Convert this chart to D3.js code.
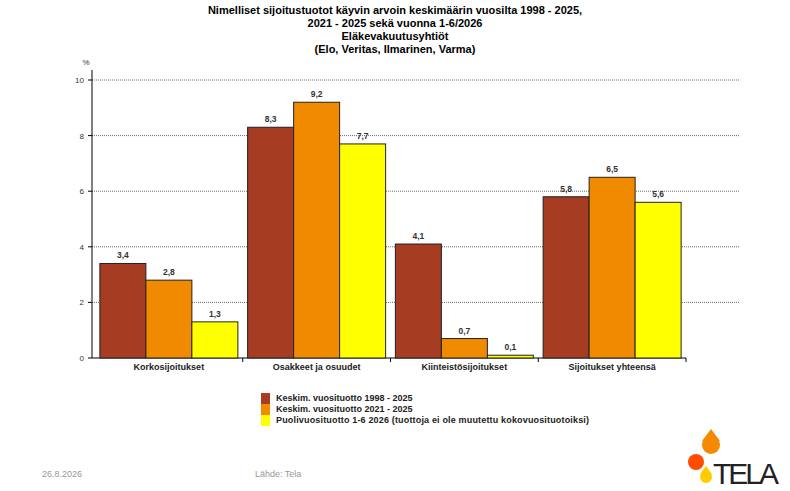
<!DOCTYPE html><html><head><meta charset="utf-8"><script src="https://cdn.jsdelivr.net/npm/d3@7"></script>
<style>body{margin:0;background:#fff}text{font-family:"Liberation Sans",Arial,sans-serif}</style></head><body><svg width="790" height="491"></svg><script>
const categories=["Korkosijoitukset","Osakkeet ja osuudet","Kiinteistösijoitukset","Sijoitukset yhteensä"];
const series=["Keskim. vuosituotto 1998 - 2025","Keskim. vuosituotto 2021 - 2025","Puolivuosituotto 1-6 2026 (tuottoja ei ole muutettu kokovuosituotoiksi)"];
const s1=[3.4,8.3,4.1,5.8], s2=[2.8,9.2,0.7,6.5], s3=[1.3,7.7,0.1,5.6];
const colors=["#A63C22","#F08A00","#FFFF00"];
const yTicks=[0,2,4,6,8,10];
const vals=[s1,s2,s3];
const svg=d3.select("svg");
const x0=d3.scaleBand().domain(categories).range([95,686]).paddingInner(0.066).paddingOuter(0.033);
const x1=d3.scaleBand().domain([0,1,2]).range([0,x0.bandwidth()]);
const y=d3.scaleLinear().domain([0,10]).range([358,80]);
const title=["Nimelliset sijoitustuotot käyvin arvoin keskimäärin vuosilta 1998 - 2025,","2021 - 2025 sekä vuonna 1-6/2026","Eläkevakuutusyhtiöt","(Elo, Veritas, Ilmarinen, Varma)"];
svg.selectAll(".t").data(title).enter().append("text").attr("x",395).attr("y",(d,i)=>14+i*13).attr("text-anchor","middle").attr("font-size",11).attr("font-weight","bold").text(d=>d);
yTicks.forEach(t=>{ if(t>0) svg.append("line").attr("x1",92).attr("x2",740).attr("y1",y(t)).attr("y2",y(t)).attr("stroke","#444").attr("stroke-width",0.8).attr("stroke-dasharray","1,1");
 svg.append("line").attr("x1",88).attr("x2",92).attr("y1",y(t)).attr("y2",y(t)).attr("stroke","#000");
 svg.append("text").attr("x",84).attr("y",y(t)+3).attr("text-anchor","end").attr("font-size",8).attr("fill","#333").text(t);});
svg.append("text").attr("x",86).attr("y",65).attr("text-anchor","middle").attr("font-size",8).attr("fill","#333").text("%");
svg.append("line").attr("x1",92).attr("x2",92).attr("y1",70).attr("y2",358).attr("stroke","#000");
svg.append("line").attr("x1",92).attr("x2",686).attr("y1",358).attr("y2",358).attr("stroke","#000");
categories.forEach((c,ci)=>{
 const gx=x0(c);
 svg.append("line").attr("x1",gx+x0.step()-x0.step()*0.033).attr("x2",gx+x0.step()-x0.step()*0.033).attr("y1",358).attr("y2",362).attr("stroke","#000");
 vals.forEach((s,si)=>{
  const bx=gx+x1(si);
  svg.append("rect").attr("x",bx).attr("y",y(s[ci])).attr("width",x1.bandwidth()).attr("height",358-y(s[ci])).attr("fill",colors[si]).attr("stroke","#222").attr("stroke-width",1);
  svg.append("text").attr("x",bx+x1.bandwidth()/2).attr("y",y(s[ci])-5).attr("text-anchor","middle").attr("font-size",8.5).attr("font-weight","bold").attr("fill","#333").text(String(s[ci]).replace(".",","));
 });
 svg.append("text").attr("x",gx+x0.bandwidth()/2).attr("y",370).attr("text-anchor","middle").attr("font-size",9).attr("font-weight","bold").attr("fill","#222").text(c);
});
series.forEach((s,i)=>{
 svg.append("rect").attr("x",261).attr("y",393+i*11).attr("width",9).attr("height",11).attr("fill",colors[i]);
 svg.append("text").attr("x",276).attr("y",401+i*11).attr("font-size",9).attr("font-weight","bold").attr("fill","#222").attr("textLength",i==2?313:null).text(s);
});
svg.append("text").attr("x",42).attr("y",477).attr("font-size",9).attr("fill","#999").text("26.8.2026");
svg.append("text").attr("x",255).attr("y",477).attr("font-size",9).attr("fill","#999").text("Lähde: Tela");
// logo
svg.append("circle").attr("cx",711).attr("cy",445).attr("r",9).attr("fill","#F58A00");
svg.append("path").attr("d","M711,429 L702,441 L720,441Z").attr("fill","#F58A00");
svg.append("circle").attr("cx",696).attr("cy",462).attr("r",8).attr("fill","#FF4C00");
svg.append("circle").attr("cx",706).attr("cy",477).attr("r",6).attr("fill","#FFCC00");
svg.append("path").attr("d","M706,466 L700,474 L712,474Z").attr("fill","#FFCC00");
svg.append("text").attr("x",713).attr("y",484).attr("font-size",30).attr("fill","#222").attr("textLength",66).text("TELA");
</script></body></html>
